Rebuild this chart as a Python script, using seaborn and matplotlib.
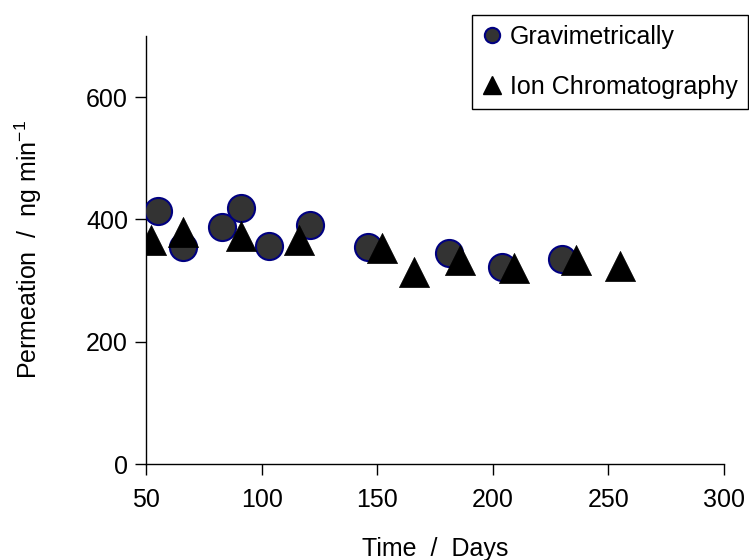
import matplotlib
matplotlib.use("Agg")
import matplotlib.pyplot as plt
from matplotlib.lines import Line2D
import seaborn as sns
import pandas as pd

# values
grav_days = [55, 66, 83, 91, 103, 121, 146, 181, 204, 230]
grav_perm = [414, 355, 388, 418, 357, 391, 355, 345, 322, 336]

ion_days = [52, 66, 91, 116, 152, 166, 186, 209, 236, 255]
ion_perm = [366, 380, 373, 366, 353, 314, 333, 321, 334, 324]

x_ticks = [50, 100, 150, 200, 250, 300]
y_ticks = [0, 200, 400, 600]

sns.set_theme(style="white")
plt.rcParams["font.family"] = ["Liberation Sans", "DejaVu Sans"]
plt.rcParams["mathtext.fontset"] = "custom"
plt.rcParams["mathtext.rm"] = "Liberation Sans"
plt.rcParams["mathtext.it"] = "Liberation Sans:italic"
plt.rcParams["text.color"] = "black"
plt.rcParams["axes.labelcolor"] = "black"

grav = pd.DataFrame({"days": grav_days, "perm": grav_perm})
ion = pd.DataFrame({"days": ion_days, "perm": ion_perm})

fig = plt.figure(figsize=(7.49, 5.6), dpi=100)
ax = fig.add_axes([0.1949, 0.1714, 0.7718, 0.7643])

sns.scatterplot(
    data=grav, x="days", y="perm", ax=ax,
    marker="o", s=380, color="#333333",
    edgecolor="#000080", linewidth=1.5, zorder=3
)

sns.scatterplot(
    data=ion, x="days", y="perm", ax=ax,
    marker="^", s=470, color="black",
    edgecolor="black", linewidth=0.5, zorder=4
)

ax.set_xlim(50, 300)
ax.set_ylim(0, 700)
ax.set_xticks(x_ticks)
ax.set_yticks(y_ticks)

for side in ["top", "right"]:
    ax.spines[side].set_visible(False)
for side in ["left", "bottom"]:
    ax.spines[side].set_color("black")
    ax.spines[side].set_linewidth(1.0)

ax.tick_params(
    axis="both", direction="out", length=8, width=1,
    colors="black", labelsize=18, bottom=True, left=True
)
ax.tick_params(axis="x", pad=9)
ax.tick_params(axis="y", pad=5)

ax.set_xlabel("Time  /  Days", fontsize=18, labelpad=18)
ax.set_ylabel("Permeation  /  ng min$^{-1}$", fontsize=18, labelpad=30)

handles = [
    Line2D([], [], linestyle="none", marker="o", markersize=11,
           markerfacecolor="#333333", markeredgecolor="#000080",
           markeredgewidth=1.5),
    Line2D([], [], linestyle="none", marker="^", markersize=13,
           markerfacecolor="black", markeredgecolor="black"),
]
leg = fig.legend(
    handles, ["Gravimetrically", "Ion Chromatography"],
    loc="upper right", bbox_to_anchor=(0.998, 0.974),
    fontsize=18, frameon=True, fancybox=False, framealpha=1,
    edgecolor="black", handlelength=0.8, handletextpad=0.3,
    labelspacing=1.05, borderpad=0.4, borderaxespad=0
)
leg.get_frame().set_linewidth(1.0)

fig.savefig("out.png", dpi=100)
